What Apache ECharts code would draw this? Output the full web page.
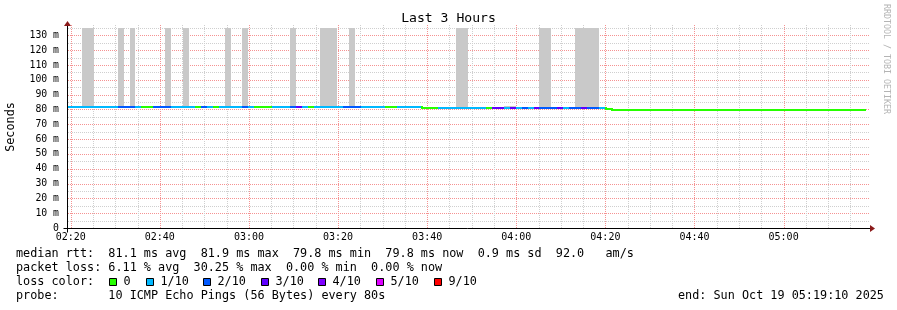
<!DOCTYPE html>
<html><head><meta charset="utf-8">
<script src="https://cdn.jsdelivr.net/npm/echarts@6/dist/echarts.min.js"></script>
<style>html,body{margin:0;padding:0;background:#fff}#c{width:897px;height:310px}</style>
</head><body><div id="c"></div><script>
// ---- data (x in minutes after 02:00, y in milliseconds) ----
const xStartMin = 19 + 10 / 60;          // 02:19:10
const xEndMin = 199 + 10 / 60;           // 05:19:10
const firstStepMin = 18.54;              // start of first 80 s step
const stepMin = 80 / 60;
const stepCount = 135;
const xTickLabels = [20, 40, 60, 80, 100, 120, 140, 160, 180];
// median rtt runs: last step index of each run, and value
const rttRunEnd = [59, 90, 91, 134];
const rttRunValue = [81.9, 81.2, 80.1, 79.8];
// loss runs: last step index of each run, and loss (out of 10)
const lossRunEnd = [8,11,12,14,17,21,22,23,24,25,29,30,31,34,37,38,39,40,41,46,49,53,55,59,62,70,71,73,74,75,76,77,78,79,82,83,84,86,87,89,90,134];
const lossRunLevel = [1,2,1,0,2,1,0,2,1,0,1,2,1,0,1,2,3,1,0,1,2,1,0,1,0,1,0,3,1,3,1,2,1,3,2,3,1,2,3,2,1,0];
// smoke (spread of pings) per step
const smokeStep = [3,4,9,11,17,20,27,30,36,37,38,43,44,45,48,49,50,51,66,67,74,75,80,81,86,87,88,89,90,122];
const smokeLow  = [81.9,81.9,81.9,81.9,81.9,81.9,81.9,81.9,80.9,80.9,81.9,81.9,81.9,81.9,81.9,80.9,80.9,80.9,81.2,81.2,81.2,81.2,81.2,81.2,81.2,81.2,81.2,81.2,80.2,79.8];
const smokeHigh = [135,135,135,135,135,135,135,135,81.9,81.9,135,135,135,135,135,81.9,81.9,81.9,135,135,82.6,82.6,135,135,135,135,135,135,81.2,80.6];
const lossLabels = ['0', '1/10', '2/10', '3/10', '4/10', '5/10', '9/10'];
const lossColors = ['#26ff00', '#00b8ff', '#0059ff', '#5e00ff', '#7e00ff', '#dd00ff', '#ff0000'];
const yMax = 135;

function runValue(ends, vals, k) { for (let i = 0; i < ends.length; i++) if (k <= ends[i]) return vals[i]; return vals[vals.length - 1]; }
const stepData = [];
for (let k = 0; k < stepCount; k++) {
  const t0 = firstStepMin + k * stepMin;
  stepData.push([t0, t0 + stepMin, runValue(rttRunEnd, rttRunValue, k), runValue(lossRunEnd, lossRunLevel, k)]);
}
const smokeData = smokeStep.map((k, i) => {
  const t0 = firstStepMin + k * stepMin;
  return [t0, t0 + stepMin, smokeLow[i], smokeHigh[i]];
});

const MONO = "'DejaVu Sans Mono', monospace";
const RED = '#f59292', GRAY = '#cfcfcf', ARROW = '#8b1a1a';
const gridXs = [];
for (let v = 20; v < xEndMin; v += 5) gridXs.push([v]);
const gridYs = [];
for (let v = 5; v <= yMax; v += 5) gridYs.push([v]);
function fmtTime(v) { const h = 2 + Math.floor(v / 60), m = Math.round(v % 60); return (h < 10 ? '0' : '') + h + ':' + (m < 10 ? '0' : '') + m; }

const chart = echarts.init(document.getElementById('c'), null, { renderer: 'canvas' });
const txt = (x, y, s, extra) => Object.assign({ type: 'text', x, y, style: Object.assign({ text: s, font: '11.8px ' + MONO, fill: '#000', verticalAlign: 'middle', align: 'left' }, extra || {}) });
const graphics = [
  txt(448.5, 19, 'Last 3 Hours', { font: '13.1px ' + MONO, align: 'center' }),
  { type: 'text', x: 11, y: 127, rotation: Math.PI / 2, style: { text: 'Seconds', font: '11.8px ' + MONO, fill: '#000', align: 'center', verticalAlign: 'middle' } },
  { type: 'text', x: 886, y: 59, rotation: -Math.PI / 2, style: { text: 'RRDTOOL / TOBI OETIKER', font: '8.3px ' + MONO, fill: '#b4b4b4', align: 'center', verticalAlign: 'middle' } },
  txt(16, 254.3, 'median rtt:  81.1 ms avg  81.9 ms max  79.8 ms min  79.8 ms now  0.9 ms sd  92.0   am/s'),
  txt(16, 268.3, 'packet loss: 6.11 % avg  30.25 % max  0.00 % min  0.00 % now'),
  txt(16, 282.3, 'loss color:'),
  txt(16, 296.3, 'probe:       10 ICMP Echo Pings (56 Bytes) every 80s'),
  txt(678, 296.3, 'end: Sun Oct 19 05:19:10 2025')
];
const boxX = [109, 146, 203, 261, 318, 376, 434];
lossLabels.forEach((l, i) => {
  graphics.push({ type: 'rect', shape: { x: boxX[i] + 0.5, y: 278.5, width: 7, height: 7 }, style: { fill: lossColors[i], stroke: '#000', lineWidth: 1 } });
  graphics.push(txt(boxX[i] + 14.5, 282.3, l));
});

const R = Math.round;
chart.setOption({
  animation: false,
  backgroundColor: '#fff',
  grid: { left: 67, right: 28, top: 28, bottom: 82, containLabel: false },
  xAxis: {
    type: 'value', min: xStartMin, max: xEndMin,
    axisLine: { show: false },
    axisTick: { show: false },
    splitLine: { show: false },
    axisLabel: { customValues: xTickLabels, formatter: fmtTime, fontFamily: MONO, fontSize: 10, color: '#000', margin: 4 }
  },
  yAxis: {
    type: 'value', min: 0, max: yMax, interval: 5,
    axisLine: { show: false },
    axisTick: { show: false },
    axisLabel: { formatter: v => (v % 10 === 0 && v <= 130) ? (v === 0 ? '0' : v + ' m') : '', fontFamily: MONO, fontSize: 9.8, color: '#000', margin: 8, showMaxLabel: true },
    splitLine: { show: false }
  },
  graphic: graphics,
  series: [
    { // horizontal grid lines
      type: 'custom', data: gridYs, z: 1, silent: true, encode: { y: 0 },
      renderItem: (params, api) => {
        const v = api.value(0);
        const a = api.coord([xStartMin, v]), b = api.coord([xEndMin, v]);
        const y = R(a[1]) + 0.5;
        return { type: 'line', shape: { x1: R(a[0]) + 1, y1: y, x2: R(b[0]), y2: y }, style: { stroke: v % 10 === 0 ? RED : GRAY, lineWidth: 1, lineDash: [1, 1] } };
      }
    },
    { // vertical grid lines
      type: 'custom', data: gridXs, z: 1, silent: true, encode: { x: 0 },
      renderItem: (params, api) => {
        const v = api.value(0);
        const a = api.coord([v, 0]), b = api.coord([v, yMax]);
        const x = R(a[0]) + 0.5;
        return { type: 'line', shape: { x1: x, y1: R(a[1]), x2: x, y2: R(b[1]) - 3 }, style: { stroke: v % 20 === 0 ? RED : GRAY, lineWidth: 1, lineDash: [1, 1] } };
      }
    },
    { // smoke
      type: 'custom', data: smokeData, z: 3, silent: true, clip: true,
      encode: { x: [0, 1], y: [2, 3] },
      renderItem: (params, api) => {
        const a = api.coord([Math.max(api.value(0), xStartMin), Math.min(api.value(3), yMax)]);
        const b = api.coord([api.value(1), api.value(2)]);
        return { type: 'rect', shape: { x: R(a[0]), y: R(a[1]), width: R(b[0]) - R(a[0]), height: R(b[1]) - R(a[1]) }, style: { fill: '#c9c9c9' } };
      }
    },
    { // median rtt coloured by loss
      type: 'custom', data: stepData, z: 4, silent: true, clip: true,
      encode: { x: [0, 1], y: 2 },
      renderItem: (params, api) => {
        const i = params.dataIndex;
        const a = api.coord([Math.max(api.value(0), xStartMin), api.value(2)]);
        const b = api.coord([api.value(1), api.value(2)]);
        const col = lossColors[api.value(3)];
        const y = R(a[1]);
        const children = [{ type: 'rect', shape: { x: R(a[0]), y: y - 1, width: R(b[0]) - R(a[0]), height: 2 }, style: { fill: col } }];
        if (i > 0 && stepData[i - 1][2] !== stepData[i][2]) {
          const p = api.coord([api.value(0), stepData[i - 1][2]]);
          const py = R(p[1]);
          const y0 = Math.min(py, y) - 1, y1 = Math.max(py, y) + 1;
          children.push({ type: 'rect', shape: { x: R(a[0]), y: y0, width: 2, height: y1 - y0 }, style: { fill: col } });
        }
        return { type: 'group', children };
      }
    }
  ]
});

// axes and arrows placed through the library's own coordinate conversion
const o = chart.convertToPixel({ gridIndex: 0 }, [xStartMin, 0]);
const e = chart.convertToPixel({ gridIndex: 0 }, [xEndMin, yMax]);
const ox = R(o[0]) + 0.5, oy = R(o[1]) + 0.5, ex = R(e[0]), ey = R(e[1]);
chart.setOption({
  graphic: graphics.concat([
    { type: 'line', z: 10, shape: { x1: ox - 4, y1: oy, x2: ex + 2, y2: oy }, style: { stroke: '#000', lineWidth: 1 } },
    { type: 'line', z: 10, shape: { x1: ox, y1: oy + 4, x2: ox, y2: ey - 4 }, style: { stroke: '#000', lineWidth: 1 } },
    { type: 'polygon', z: 11, shape: { points: [[ex + 1, oy - 3.5], [ex + 6, oy], [ex + 1, oy + 3.5]] }, style: { fill: ARROW } },
    { type: 'polygon', z: 11, shape: { points: [[ox - 3.5, ey - 2], [ox, ey - 7], [ox + 3.5, ey - 2]] }, style: { fill: ARROW } }
  ])
});
</script></body></html>
